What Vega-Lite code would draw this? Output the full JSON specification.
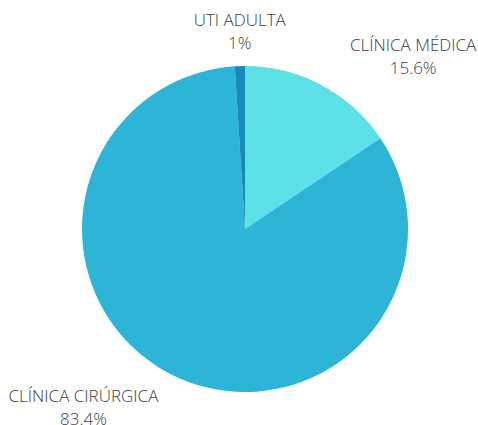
{
  "$schema": "https://vega.github.io/schema/vega-lite/v6.json",
  "width": 490,
  "height": 458,
  "padding": 0,
  "autosize": "none",
  "background": "#ffffff",
  "data": {
    "values": [
      {"cat": "CLÍNICA MÉDICA", "pct": 15.6, "label": "CLÍNICA MÉDICA\n15.6%", "ord": 1},
      {"cat": "CLÍNICA CIRÚRGICA", "pct": 83.4, "label": "CLÍNICA CIRÚRGICA\n83.4%", "ord": 2},
      {"cat": "UTI ADULTA", "pct": 1, "label": "UTI ADULTA\n1%", "ord": 3}
    ]
  },
  "encoding": {
    "theta": {"field": "pct", "type": "quantitative", "stack": true},
    "order": {"field": "ord", "type": "quantitative"}
  },
  "layer": [
    {
      "mark": {"type": "arc", "outerRadius": 163},
      "encoding": {
        "color": {
          "field": "cat",
          "type": "nominal",
          "scale": {
            "domain": ["CLÍNICA MÉDICA", "CLÍNICA CIRÚRGICA", "UTI ADULTA"],
            "range": ["#5ce1e6", "#2cb5d6", "#1a87bd"]
          },
          "legend": null
        }
      }
    },
    {
      "mark": {"type": "text", "radius": 200, "font": "Open Sans", "fontWeight": 300, "fontSize": 17, "fill": "#3d3d3d", "align": "center", "baseline": "middle", "lineBreak": "\n", "lineHeight": 23, "dx": 74, "dy": -7},
      "encoding": {
        "text": {"condition": {"test": "datum.cat === 'CLÍNICA MÉDICA'", "field": "label"}, "value": ""}
      }
    },
    {
      "mark": {"type": "text", "radius": 200, "font": "Open Sans", "fontWeight": 300, "fontSize": 17, "fill": "#3d3d3d", "align": "center", "baseline": "middle", "lineBreak": "\n", "lineHeight": 23, "dx": -73, "dy": -11},
      "encoding": {
        "text": {"condition": {"test": "datum.cat === 'CLÍNICA CIRÚRGICA'", "field": "label"}, "value": ""}
      }
    },
    {
      "mark": {"type": "text", "radius": 200, "font": "Open Sans", "fontWeight": 300, "fontSize": 17, "fill": "#3d3d3d", "align": "center", "baseline": "middle", "lineBreak": "\n", "lineHeight": 23, "dx": 1, "dy": -8},
      "encoding": {
        "text": {"condition": {"test": "datum.cat === 'UTI ADULTA'", "field": "label"}, "value": ""}
      }
    }
  ]
}
